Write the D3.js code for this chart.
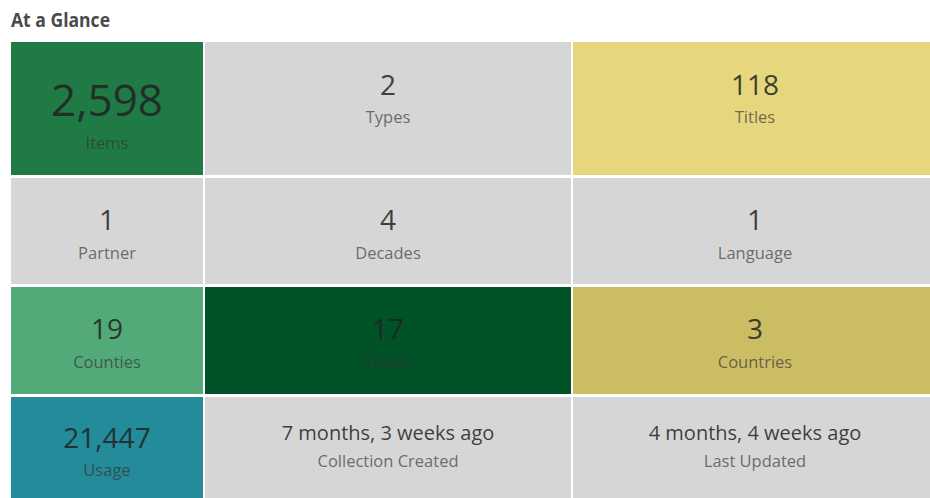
<!DOCTYPE html>
<html>
<head>
<meta charset="utf-8">
<script src="https://cdn.jsdelivr.net/npm/d3@7"></script>
<style>
    body { margin: 0; background: #fff; }
    svg { display: block; }
    text { font-family: "Open Sans", sans-serif; }
</style>
</head>
<body>
<div id="chart"></div>
<script>
// tile values, top-left to bottom-right
const values = ['2,598', '2', '118', '1', '4', '1', '19', '17', '3', '21,447', '7 months, 3 weeks ago', '4 months, 4 weeks ago'];
const labels = ['Items', 'Types', 'Titles', 'Partner', 'Decades', 'Language', 'Counties', 'States', 'Countries', 'Usage', 'Collection Created', 'Last Updated'];

// tile colours (style, kept apart from the data)
const tileFill = ['#1f7a46', '#d6d6d6', '#e6d67d', '#d6d6d6', '#d6d6d6', '#d6d6d6', '#52aa78', '#005326', '#cbbd63', '#238b99', '#d6d6d6', '#d6d6d6'];

const width = 930, height = 498;
const svg = d3.select('#chart').append('svg')
    .attr('width', width)
    .attr('height', height);

// title
svg.append('text')
    .attr('x', 11)
    .attr('y', 27)
    .attr('font-family', '"Liberation Sans Narrow", "Open Sans", sans-serif')
    .attr('font-weight', 'bold')
    .attr('font-size', 19)
    .attr('textLength', 99)
    .attr('lengthAdjust', 'spacingAndGlyphs')
    .attr('fill', '#4a4a4a')
    .text('At a Glance');

// grid layout: uneven columns and rows
const colX = d3.scaleOrdinal().domain([0, 1, 2]).range([11, 205, 573]);
const colW = d3.scaleOrdinal().domain([0, 1, 2]).range([192, 366, 366]);
const rowY = d3.scaleOrdinal().domain([0, 1, 2, 3]).range([42, 178, 287, 397]);
const rowH = d3.scaleOrdinal().domain([0, 1, 2, 3]).range([133, 106, 107, 104]);

const tiles = values.map((v, i) => ({
    value: v,
    label: labels[i],
    fill: tileFill[i],
    col: i % 3,
    row: Math.floor(i / 3)
}));

const cell = svg.selectAll('.tile')
    .data(tiles)
    .join('g')
    .attr('class', 'tile')
    .attr('transform', d => `translate(${colX(d.col)},${rowY(d.row)})`);

cell.append('rect')
    .attr('width', d => colW(d.col))
    .attr('height', d => rowH(d.row))
    .attr('fill', d => d.fill);

// number size / offsets depend on tile
const numSize = d => d.row === 0 && d.col === 0 ? 44 : (d.value.length > 8 ? 20 : 28);
const numY = d => {
    if (d.row === 0 && d.col === 0) return 58;
    if (d.value.length > 8) return 36;
    return d.row === 0 ? 43 : (d.row === 3 ? 41 : 42);
};
const labY = d => {
    if (d.row === 0 && d.col === 0) return 101;
    if (d.value.length > 8) return 64;
    return d.row === 3 ? 73 : 75;
};

cell.append('text')
    .attr('class', 'value')
    .attr('x', d => colW(d.col) / 2 + (d.col === 2 ? -1 : 0))
    .attr('y', d => numY(d))
    .attr('dy', '0.36em')
    .attr('text-anchor', 'middle')
    .attr('font-size', d => numSize(d))
    .attr('fill', '#222')
    .attr('fill-opacity', 0.85)
    .text(d => d.value);

cell.append('text')
    .attr('class', 'label')
    .attr('x', d => colW(d.col) / 2 + (d.col === 2 ? -1 : 0))
    .attr('y', d => labY(d))
    .attr('dy', '0.36em')
    .attr('text-anchor', 'middle')
    .attr('font-size', 16.5)
    .attr('fill', '#333')
    .attr('fill-opacity', 0.68)
    .text(d => d.label);
</script>
</body>
</html>
